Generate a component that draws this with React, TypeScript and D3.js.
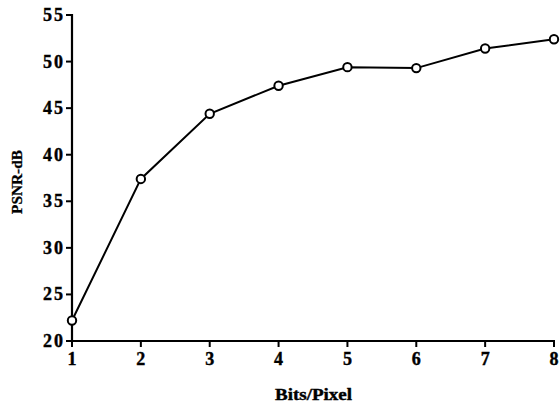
import React from "react";
import * as d3 from "d3";

const bitsPerPixel = [1, 2, 3, 4, 5, 6, 7, 8];
const psnr = [22.2, 37.4, 44.4, 47.4, 49.4, 49.3, 51.4, 52.4];
const yTicks = [20, 25, 30, 35, 40, 45, 50, 55];
const xTicks = [1, 2, 3, 4, 5, 6, 7, 8];

const W = 560;
const H = 406;
const font = "'Liberation Serif', 'Times New Roman', serif";

export default function App() {
  const x = d3.scaleLinear().domain([1, 8]).range([72, 554]);
  const y = d3.scaleLinear().domain([20, 55]).range([341, 15]);
  const pts = bitsPerPixel.map((b, i) => [b, psnr[i]] as [number, number]);
  const line = d3
    .line<[number, number]>()
    .x((d) => x(d[0]))
    .y((d) => y(d[1]));

  return (
    <svg
      width={W}
      height={H}
      style={{ position: "absolute", left: 0, top: 0, background: "#fff" }}
      fontFamily={font}
      fontWeight="bold"
    >
      {/* y axis */}
      <line x1={x(1)} x2={x(1)} y1={y(55) - 1} y2={y(20) + 1} stroke="#000" strokeWidth={2.2} />
      {yTicks.map((t) => (
        <g key={"y" + t}>
          <line x1={x(1) - 6} x2={x(1)} y1={y(t)} y2={y(t)} stroke="#000" strokeWidth={2} />
          <text
            x={x(1) - 9}
            y={y(t)}
            dy="0.33em"
            textAnchor="end"
            fontSize={18}
            stroke="#000"
            strokeWidth={0.4}
            textLength={20}
          >
            {t}
          </text>
        </g>
      ))}
      {/* x axis */}
      <line x1={x(1) - 1} x2={x(8) + 1} y1={y(20)} y2={y(20)} stroke="#000" strokeWidth={2.2} />
      {xTicks.map((t) => (
        <g key={"x" + t}>
          <line x1={x(t)} x2={x(t)} y1={y(20)} y2={y(20) + 6} stroke="#000" strokeWidth={2} />
          <text
            x={x(t)}
            y={y(20) + 24}
            textAnchor="middle"
            fontSize={18}
            stroke="#000"
            strokeWidth={0.4}
          >
            {t}
          </text>
        </g>
      ))}
      <text
        x={313.5}
        y={400}
        textAnchor="middle"
        fontSize={16}
        stroke="#000"
        strokeWidth={0.4}
        textLength={77}
        lengthAdjust="spacingAndGlyphs"
      >
        Bits/Pixel
      </text>
      <text
        transform={`translate(22, 182) rotate(-90)`}
        textAnchor="middle"
        fontSize={15}
        stroke="#000"
        strokeWidth={0.3}
        textLength={64}
        lengthAdjust="spacingAndGlyphs"
      >
        PSNR-dB
      </text>
      <path d={line(pts) || ""} fill="none" stroke="#000" strokeWidth={2} />
      {pts.map((d, i) => (
        <circle key={i} cx={x(d[0])} cy={y(d[1])} r={4.2} fill="#fff" stroke="#000" strokeWidth={2} />
      ))}
    </svg>
  );
}
